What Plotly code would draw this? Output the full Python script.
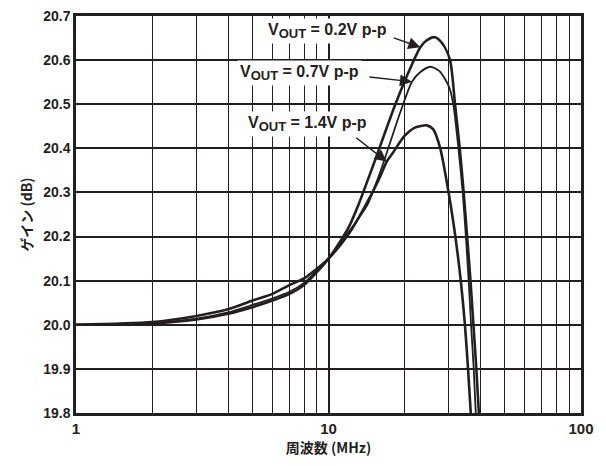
import plotly.graph_objects as go
import math

# Frequency (MHz) and gain (dB) for each output level
freq_02 = [1, 2, 3, 4, 5, 6, 7, 8, 10, 12, 13.1, 15, 18.4, 21.4, 23.1, 24.5, 26.4, 28.3, 30.3, 31.7, 33.1, 34.3, 35.4, 36.5, 37.5, 38.5, 39.4]
gain_02 = [20.000, 20.003, 20.012, 20.025, 20.040, 20.055, 20.070, 20.090, 20.150, 20.220, 20.270, 20.360, 20.500, 20.590, 20.629, 20.645, 20.652, 20.637, 20.600, 20.500, 20.400, 20.300, 20.200, 20.100, 20.000, 19.900, 19.800]

freq_07 = [1, 2, 3, 4, 5, 6, 7, 8, 10, 12, 14.2, 16, 19.2, 21.4, 23, 25.3, 27.5, 30, 31.2, 32.7, 34.0, 35.0, 35.9, 36.7, 37.6, 38.3]
gain_07 = [20.000, 20.004, 20.014, 20.028, 20.045, 20.060, 20.075, 20.095, 20.150, 20.210, 20.270, 20.345, 20.480, 20.551, 20.572, 20.585, 20.575, 20.540, 20.500, 20.400, 20.300, 20.200, 20.100, 20.000, 19.900, 19.800]

freq_14 = [1, 2, 3, 4, 5, 6, 7, 8, 10, 12, 14, 16, 17, 18, 20, 22, 24.5, 26, 27.7, 29.9, 31.8, 33.4, 34.7, 35.7, 36.6]
gain_14 = [20.000, 20.006, 20.020, 20.035, 20.055, 20.070, 20.090, 20.105, 20.150, 20.205, 20.270, 20.335, 20.370, 20.390, 20.428, 20.447, 20.452, 20.443, 20.400, 20.300, 20.200, 20.100, 20.000, 19.900, 19.800]

y_ticks = [19.8, 19.9, 20.0, 20.1, 20.2, 20.3, 20.4, 20.5, 20.6, 20.7]
x_ticks = [1, 10, 100]

# Label text, label anchor (freq, gain), arrow tip (freq, gain), arrow tail offset (px)
SUB = "<sub><span style='font-size:13px'>OUT</span></sub>"
labels = [f"V{SUB} = 0.2V p-p", f"V{SUB} = 0.7V p-p", f"V{SUB} = 1.4V p-p"]
label_pos = [(17.5, 20.667), (13.55, 20.571), (14.6, 20.455)]
tips = [(23.1, 20.629), (21.4, 20.551), (17.0, 20.370)]
arrow_offsets = [(-28, -10), (-44, -5), (-32, -25)]

INK = "#231f20"
FONT = "Liberation Sans, Arial, sans-serif"
CJK = "Noto Sans CJK JP, sans-serif"

fig = go.Figure()
for fx, gy, w in [(freq_02, gain_02, 2.6), (freq_07, gain_07, 1.8), (freq_14, gain_14, 2.6)]:
    fig.add_trace(go.Scatter(x=fx, y=gy, mode="lines",
                             line=dict(color=INK, width=w, shape="spline", smoothing=0.7),
                             showlegend=False, hoverinfo="skip"))

for text, (tx, ty), (fx, fy), (ax, ay) in zip(labels, label_pos, tips, arrow_offsets):
    fig.add_annotation(x=math.log10(tx), y=ty, text=text, showarrow=False,
                       xanchor="right", yanchor="middle", bgcolor="white", borderpad=2,
                       font=dict(family=FONT, size=16, color=INK, weight="bold"))
    fig.add_annotation(x=math.log10(fx), y=fy, text="", showarrow=True,
                       ax=ax, ay=ay, arrowhead=2, arrowsize=1.6, arrowwidth=1.5,
                       arrowcolor=INK, standoff=0)

fig.update_xaxes(type="log", range=[0, 2], tickvals=x_ticks, ticktext=[str(v) for v in x_ticks],
                 showgrid=True, gridcolor=INK, gridwidth=2,
                 minor=dict(dtick="D1", showgrid=True, gridcolor=INK, gridwidth=1.3, ticks=""),
                 showline=True, linecolor=INK, linewidth=2.5, mirror=True,
                 ticks="", ticklen=0,
                 tickfont=dict(family=FONT, size=15, color=INK, weight="bold"),
                 title=dict(text="周波数 (MHz)", standoff=4,
                            font=dict(family=CJK, size=14, color=INK, weight="bold")),
                 zeroline=False)
fig.update_yaxes(range=[19.8, 20.7], tickvals=y_ticks, ticktext=[f"{v:.1f}" for v in y_ticks],
                 showgrid=True, gridcolor=INK, gridwidth=2,
                 showline=True, linecolor=INK, linewidth=2.5, mirror=True,
                 ticks="", ticklen=0,
                 tickfont=dict(family=FONT, size=14, color=INK, weight="bold"),
                 title=dict(text="ゲイン (dB)", standoff=8,
                            font=dict(family=CJK, size=14, color=INK, weight="bold")),
                 zeroline=False)

fig.update_layout(width=606, height=466, margin=dict(l=76, r=25, t=8, b=53),
                  plot_bgcolor="white", paper_bgcolor="white")

fig.write_html("out.html")
